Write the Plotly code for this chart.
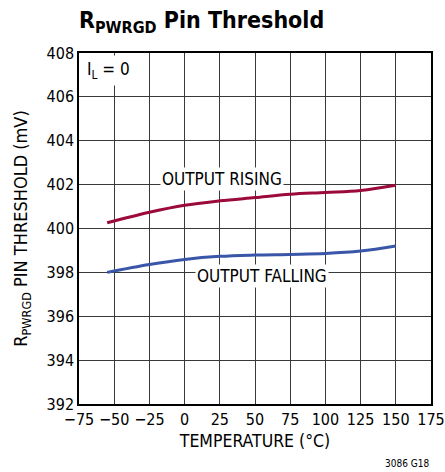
import plotly.graph_objects as go

temp = [-55, -25, 0, 25, 50, 75, 100, 125, 150]
rising = [400.26, 400.74, 401.06, 401.26, 401.41, 401.56, 401.64, 401.73, 401.97]
falling = [398.0, 398.36, 398.59, 398.73, 398.79, 398.82, 398.86, 398.97, 399.2]
x_ticks = [-75, -50, -25, 0, 25, 50, 75, 100, 125, 150, 175]
y_ticks = [392, 394, 396, 398, 400, 402, 404, 406, 408]

FONT = "DejaVu Sans Condensed, Liberation Sans Narrow, Roboto, sans-serif"

fig = go.Figure()
fig.add_trace(go.Scatter(x=temp, y=rising, mode="lines", line=dict(color="#9b0a3a", width=3, shape="spline"), showlegend=False))
fig.add_trace(go.Scatter(x=temp, y=falling, mode="lines", line=dict(color="#3a56a8", width=3, shape="spline"), showlegend=False))

axis_common = dict(showgrid=True, gridcolor="#3a3a3a", gridwidth=1, showline=True, linecolor="black",
                   linewidth=1.5, mirror=True, ticks="", zeroline=False, automargin=False,
                   tickfont=dict(family=FONT, size=16, color="black"))

fig.update_xaxes(range=[-75, 175], tickvals=x_ticks, ticklabelstandoff=0, **axis_common,
                 title=dict(text="TEMPERATURE (°C)", font=dict(family=FONT, size=17.5, color="black"), standoff=7))
fig.update_yaxes(range=[392, 408], tickvals=y_ticks, **axis_common,
                 title=dict(text="R<sub>PWRGD</sub> PIN THRESHOLD (mV)", font=dict(family=FONT, size=18, color="black"), standoff=14))

fig.add_annotation(x=26.6, y=402.25, text="OUTPUT RISING", showarrow=False, bgcolor="white",
                   font=dict(family=FONT, size=17, color="black"), borderpad=1)
fig.add_annotation(x=55.3, y=397.85, text="OUTPUT FALLING", showarrow=False, bgcolor="white",
                   font=dict(family=FONT, size=17, color="black"), borderpad=1)
fig.add_annotation(x=0.01, y=0.995, xref="paper", yref="paper", xanchor="left", yanchor="top",
                   text="I<sub>L</sub> = 0", showarrow=False, bgcolor="white",
                   font=dict(family=FONT, size=17, color="black"), borderpad=3)
fig.add_annotation(x=1.0, y=0, xref="paper", yref="paper", xanchor="right", yanchor="bottom",
                   yshift=-67, text="3086 G18", showarrow=False,
                   font=dict(family=FONT, size=10, color="black"))

fig.update_layout(
    width=445, height=472,
    margin=dict(l=79, r=14, t=53, b=68),
    paper_bgcolor="white", plot_bgcolor="white",
    title=dict(text="<b>R<sub>PWRGD</sub> Pin Threshold</b>", x=79/445, xanchor="left", y=0.957, yanchor="middle",
               font=dict(family=FONT, size=23, color="black")),
)

fig.write_html("out.html", config={"displayModeBar": False},
               post_script="document.body.style.margin='0';document.body.style.overflow='hidden';")
